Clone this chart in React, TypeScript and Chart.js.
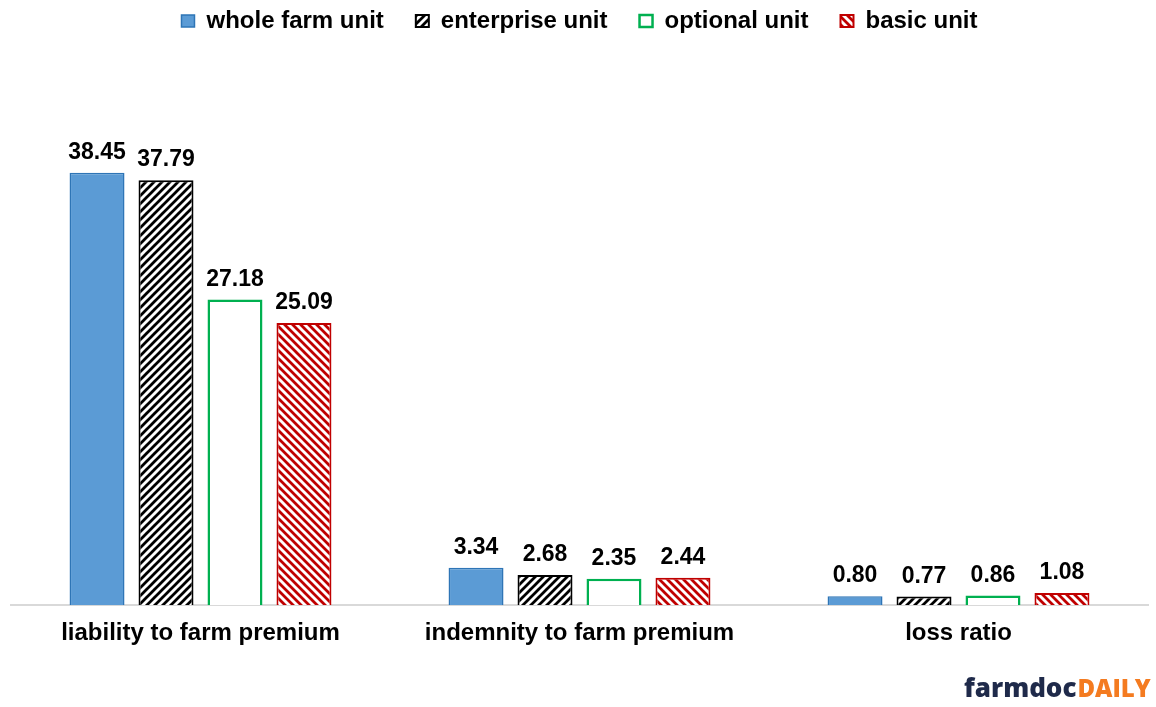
import React, { useEffect, useRef } from "react";
import { Chart, registerables } from "chart.js";

Chart.register(...registerables);

const categories = ["liability to farm premium", "indemnity to farm premium", "loss ratio"];
const seriesNames = ["whole farm unit", "enterprise unit", "optional unit", "basic unit"];
const wholeFarm = [38.45, 3.34, 0.8];
const enterprise = [37.79, 2.68, 0.77];
const optional = [27.18, 2.35, 0.86];
const basic = [25.09, 2.44, 1.08];

const FONT = '"Liberation Sans", Arial, sans-serif';

function makeHatch(color: string, dir: "fwd" | "back", size = 8, lw = 2.8) {
  const c = document.createElement("canvas");
  c.width = size;
  c.height = size;
  const g = c.getContext("2d")!;
  g.fillStyle = "#ffffff";
  g.fillRect(0, 0, size, size);
  g.strokeStyle = color;
  g.lineWidth = lw;
  g.lineCap = "square";
  g.beginPath();
  if (dir === "fwd") {
    g.moveTo(-1, size + 1);
    g.lineTo(size + 1, -1);
    g.moveTo(-1, 1);
    g.lineTo(1, -1);
    g.moveTo(size - 1, size + 1);
    g.lineTo(size + 1, size - 1);
  } else {
    g.moveTo(-1, -1);
    g.lineTo(size + 1, size + 1);
    g.moveTo(size - 1, -1);
    g.lineTo(size + 1, 1);
    g.moveTo(-1, size - 1);
    g.lineTo(1, size + 1);
  }
  g.stroke();
  return g.createPattern(c, "repeat")!;
}

const valueLabels = {
  id: "valueLabels",
  afterDatasetsDraw(chart: any) {
    const ctx = chart.ctx;
    ctx.save();
    ctx.font = `bold 23px ${FONT}`;
    ctx.fillStyle = "#000";
    ctx.textAlign = "center";
    ctx.textBaseline = "alphabetic";
    chart.data.datasets.forEach((ds: any, i: number) => {
      const meta = chart.getDatasetMeta(i);
      meta.data.forEach((bar: any, j: number) => {
        ctx.fillText(Number(ds.data[j]).toFixed(2), bar.x, bar.y - 14);
      });
    });
    ctx.restore();
  },
};

const logo = {
  id: "logo",
  afterDraw(chart: any) {
    const ctx = chart.ctx;
    ctx.save();
    ctx.textBaseline = "alphabetic";
    ctx.textAlign = "left";
    ctx.font = `800 26px "Open Sans", sans-serif`;
    ctx.fillStyle = "#1f2a4a";
    ctx.fillText("farmdoc", 964, 697);
    const w = ctx.measureText("farmdoc").width;
    ctx.font = `800 24px "Open Sans", sans-serif`;
    ctx.fillStyle = "#f47b20";
    ctx.fillText("DAILY", 964 + w + 1, 697, 1151 - (964 + w + 1));
    ctx.restore();
  },
};

export default function App() {
  const ref = useRef<HTMLCanvasElement>(null);
  useEffect(() => {
    const canvas = ref.current!;
    const entHatch = makeHatch("#000000", "fwd");
    const basicHatch = makeHatch("#c00000", "back");
    const chart = new Chart(canvas, {
      type: "bar",
      data: {
        labels: categories,
        datasets: [
          {
            label: seriesNames[0],
            data: wholeFarm,
            backgroundColor: "#5b9bd5",
            borderColor: "#2e75b6",
            borderWidth: 1.5,
          },
          {
            label: seriesNames[1],
            data: enterprise,
            backgroundColor: entHatch,
            borderColor: "#000000",
            borderWidth: 2,
          },
          {
            label: seriesNames[2],
            data: optional,
            backgroundColor: "#ffffff",
            borderColor: "#00b050",
            borderWidth: 2.5,
          },
          {
            label: seriesNames[3],
            data: basic,
            backgroundColor: basicHatch,
            borderColor: "#c00000",
            borderWidth: 2,
          },
        ],
      },
      options: {
        responsive: true,
        maintainAspectRatio: false,
        animation: false,
        layout: { padding: { left: 11, right: 8, top: -23, bottom: 45 } },
        datasets: {
          bar: { categoryPercentage: 0.728, barPercentage: 0.797 },
        },
        scales: {
          x: {
            grid: { display: false, drawTicks: false },
            border: { display: true, color: "#d9d9d9", width: 2 },
            ticks: {
              color: "#000",
              padding: 14,
              font: { family: FONT, weight: "bold", size: 24 },
            },
          },
          y: {
            display: false,
            min: 0,
            max: 50,
          },
        },
        plugins: {
          tooltip: { enabled: false },
          legend: {
            position: "top",
            labels: {
              color: "#000",
              boxWidth: 13,
              boxHeight: 12,
              padding: 32,
              font: { family: FONT, weight: "bold", size: 24 },
            },
          },
        },
      },
      plugins: [valueLabels, logo],
    });
    return () => chart.destroy();
  }, []);
  return (
    <div style={{ position: "absolute", left: 0, top: 0, width: 1156, height: 707 }}>
      <canvas ref={ref} />
    </div>
  );
}
